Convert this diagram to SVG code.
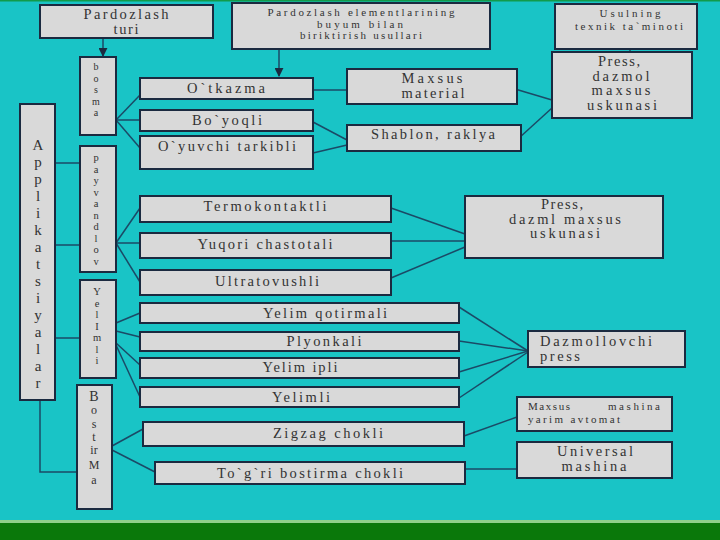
<svg xmlns="http://www.w3.org/2000/svg" width="720" height="540" viewBox="0 0 720 540">
<defs>
<style>
.box{fill:#d9d9d9;stroke:#1b2a40;stroke-width:2}
.t{font-family:"Liberation Serif","Times New Roman",serif;fill:#333;text-anchor:middle}
.s{font-size:11px}
.m{font-size:14.5px}
.v{font-family:"Liberation Serif","Times New Roman",serif;fill:#333;text-anchor:middle}
.c{stroke:#1b4a66;stroke-width:1.5;fill:none}
</style>
<marker id="ar" viewBox="0 0 10 10" refX="9" refY="5" markerWidth="6" markerHeight="6" orient="auto">
<path d="M0,0 L10,5 L0,10 z" fill="#1b2a40"/>
</marker>
</defs>
<rect x="0" y="0" width="720" height="540" fill="#19c4c6"/>
<rect x="0" y="0" width="720" height="1.5" fill="#129a4a"/>
<rect x="0" y="520" width="720" height="3" fill="#8fd08a"/>
<rect x="0" y="523" width="720" height="17" fill="#0a780a"/>

<g id="connectors">
<line class="c" x1="103" y1="38" x2="103" y2="56" marker-end="url(#ar)"/>
<line class="c" x1="279" y1="49" x2="279" y2="76" marker-end="url(#ar)"/>
<line class="c" x1="630" y1="49" x2="630" y2="64" marker-end="url(#ar)"/>
<line class="c" x1="55" y1="163" x2="80" y2="163"/>
<line class="c" x1="55" y1="245" x2="80" y2="245"/>
<line class="c" x1="55" y1="338" x2="80" y2="338"/>
<polyline class="c" points="40,400 40,472 77,472"/>
<line class="c" x1="116" y1="120" x2="140" y2="95"/>
<line class="c" x1="116" y1="120" x2="140" y2="120"/>
<line class="c" x1="116" y1="120" x2="140" y2="148"/>
<line class="c" x1="313" y1="90" x2="347" y2="90"/>
<line class="c" x1="313" y1="122" x2="347" y2="140"/>
<line class="c" x1="313" y1="153" x2="347" y2="145"/>
<line class="c" x1="515" y1="89" x2="552" y2="100"/>
<line class="c" x1="519" y1="138" x2="552" y2="108"/>
<line class="c" x1="116" y1="243" x2="140" y2="208"/>
<line class="c" x1="116" y1="243" x2="140" y2="243"/>
<line class="c" x1="116" y1="243" x2="140" y2="282"/>
<line class="c" x1="391" y1="208" x2="465" y2="234"/>
<line class="c" x1="391" y1="241" x2="465" y2="241"/>
<line class="c" x1="391" y1="278" x2="465" y2="247"/>
<line class="c" x1="116" y1="323" x2="140" y2="313"/>
<line class="c" x1="116" y1="331" x2="140" y2="337"/>
<line class="c" x1="116" y1="343" x2="140" y2="365"/>
<line class="c" x1="116" y1="345" x2="140" y2="397"/>
<line class="c" x1="459" y1="307" x2="528" y2="351"/>
<line class="c" x1="459" y1="341" x2="528" y2="351"/>
<line class="c" x1="459" y1="372" x2="528" y2="351"/>
<line class="c" x1="459" y1="398" x2="528" y2="352"/>
<line class="c" x1="112" y1="446" x2="143" y2="429"/>
<line class="c" x1="112" y1="450" x2="155" y2="472"/>
<line class="c" x1="464" y1="436" x2="517" y2="417"/>
<line class="c" x1="465" y1="469" x2="517" y2="469"/>
</g>

<g id="n-pardozlash-turi">
<rect class="box" x="40" y="5" width="173" height="33"/>
<text class="t m" x="126" y="19" textLength="85" lengthAdjust="spacing">Pardozlash</text>
<text class="t m" x="126" y="34" textLength="25" lengthAdjust="spacing">turi</text>
</g>
<g id="n-biriktirish">
<rect class="box" x="232" y="3" width="258" height="46"/>
<text class="t s" x="361" y="16" textLength="187" lengthAdjust="spacing">Pardozlash elementlarining</text>
<text class="t s" x="360" y="27.5" textLength="86" lengthAdjust="spacing">buyum bilan</text>
<text class="t s" x="361" y="39" textLength="122" lengthAdjust="spacing">biriktirish usullari</text>
</g>
<g id="n-usulning">
<rect class="box" x="555" y="4" width="142" height="45"/>
<text class="t s" x="630" y="17" textLength="61" lengthAdjust="spacing">Usulning</text>
<text class="t s" x="629" y="29.5" textLength="108" lengthAdjust="spacing">texnik ta`minoti</text>
</g>
<g id="n-press1">
<rect class="box" x="552" y="52" width="140" height="66"/>
<text class="t m" x="619" y="66" textLength="42" lengthAdjust="spacing">Press,</text>
<text class="t m" x="621" y="80.5" textLength="57" lengthAdjust="spacing">dazmol</text>
<text class="t m" x="621" y="95" textLength="59" lengthAdjust="spacing">maxsus</text>
<text class="t m" x="622" y="109.5" textLength="70" lengthAdjust="spacing">uskunasi</text>
</g>

<g id="n-applikatsiyalar">
<rect class="box" x="20" y="104" width="35" height="296"/>
<text class="v" style="font-size:15px">
<tspan x="38" y="150">A</tspan><tspan x="38" y="167">p</tspan><tspan x="38" y="184">p</tspan><tspan x="38" y="201">l</tspan><tspan x="38" y="218">i</tspan><tspan x="38" y="235">k</tspan><tspan x="38" y="252">a</tspan><tspan x="38" y="269">t</tspan><tspan x="38" y="286">s</tspan><tspan x="38" y="303">i</tspan><tspan x="38" y="320">y</tspan><tspan x="38" y="337">a</tspan><tspan x="38" y="354">l</tspan><tspan x="38" y="371">a</tspan><tspan x="38" y="388">r</tspan>
</text>
</g>
<g id="n-bosma">
<rect class="box" x="80" y="57" width="36" height="78"/>
<text class="v" style="font-size:10px">
<tspan x="96" y="70">b</tspan><tspan x="96" y="82">o</tspan><tspan x="96" y="93">s</tspan><tspan x="96" y="105">m</tspan><tspan x="96" y="116">a</tspan>
</text>
</g>
<g id="n-payvandlov">
<rect class="box" x="80" y="146" width="36" height="126"/>
<text class="v" style="font-size:10.5px">
<tspan x="96" y="161">p</tspan><tspan x="96" y="172.5">a</tspan><tspan x="96" y="184">y</tspan><tspan x="96" y="195.5">v</tspan><tspan x="96" y="207">a</tspan><tspan x="96" y="218.5">n</tspan><tspan x="96" y="230">d</tspan><tspan x="96" y="241.5">l</tspan><tspan x="96" y="253">o</tspan><tspan x="96" y="264.5">v</tspan>
</text>
</g>
<g id="n-yelimli-v">
<rect class="box" x="80" y="280" width="36" height="98"/>
<text class="v" style="font-size:10.5px">
<tspan x="97" y="295">Y</tspan><tspan x="97" y="306.5">e</tspan><tspan x="97" y="318">l</tspan><tspan x="97" y="329.5">I</tspan><tspan x="97" y="341">m</tspan><tspan x="97" y="352.5">l</tspan><tspan x="97" y="364">i</tspan>
</text>
</g>
<g id="n-bostirma">
<rect class="box" x="77" y="385" width="35" height="124"/>
<text class="v" style="font-size:12px">
<tspan x="94" y="401" style="font-size:14px">B</tspan><tspan x="94" y="414">o</tspan><tspan x="94" y="428">s</tspan><tspan x="94" y="441">t</tspan><tspan x="94" y="454">ir</tspan><tspan x="94" y="469">M</tspan><tspan x="94" y="484">a</tspan>
</text>
</g>

<g id="n-otkazma">
<rect class="box" x="140" y="78" width="173" height="21"/>
<text class="t m" x="226" y="93" textLength="78" lengthAdjust="spacing">O`tkazma</text>
</g>
<g id="n-boyoqli">
<rect class="box" x="140" y="110" width="173" height="21"/>
<text class="t m" x="227" y="125" textLength="70" lengthAdjust="spacing">Bo`yoqli</text>
</g>
<g id="n-oyuvchi">
<rect class="box" x="140" y="136" width="173" height="33"/>
<text class="t m" x="227" y="151" textLength="138" lengthAdjust="spacing">O`yuvchi tarkibli</text>
</g>
<g id="n-maxsus-material">
<rect class="box" x="347" y="69" width="170" height="35"/>
<text class="t m" x="432" y="83" textLength="61" lengthAdjust="spacing">Maxsus</text>
<text class="t m" x="433" y="98" textLength="63" lengthAdjust="spacing">material</text>
</g>
<g id="n-shablon">
<rect class="box" x="347" y="125" width="174" height="26"/>
<text class="t m" x="433" y="139" textLength="124" lengthAdjust="spacing">Shablon, raklya</text>
</g>

<g id="n-termokontaktli">
<rect class="box" x="140" y="196" width="251" height="26"/>
<text class="t m" x="265" y="211" textLength="123" lengthAdjust="spacing">Termokontaktli</text>
</g>
<g id="n-yuqori">
<rect class="box" x="140" y="233" width="251" height="25"/>
<text class="t m" x="265" y="249" textLength="135" lengthAdjust="spacing">Yuqori chastotali</text>
</g>
<g id="n-ultratovushli">
<rect class="box" x="140" y="270" width="251" height="25"/>
<text class="t m" x="267" y="286" textLength="104" lengthAdjust="spacing">Ultratovushli</text>
</g>
<g id="n-press2">
<rect class="box" x="465" y="196" width="198" height="62"/>
<text class="t m" x="562" y="209" textLength="42" lengthAdjust="spacing">Press,</text>
<text class="t m" x="565" y="223.5" textLength="112" lengthAdjust="spacing">dazml maxsus</text>
<text class="t m" x="565" y="238" textLength="70" lengthAdjust="spacing">uskunasi</text>
</g>

<g id="n-yelim-qotirmali">
<rect class="box" x="140" y="303" width="319" height="20"/>
<text class="t m" x="325" y="318" textLength="124" lengthAdjust="spacing">Yelim qotirmali</text>
</g>
<g id="n-plyonkali">
<rect class="box" x="140" y="332" width="319" height="19"/>
<text class="t m" x="324" y="346" textLength="75" lengthAdjust="spacing">Plyonkali</text>
</g>
<g id="n-yelim-ipli">
<rect class="box" x="140" y="358" width="319" height="20"/>
<text class="t m" x="300" y="372" textLength="75" lengthAdjust="spacing">Yelim ipli</text>
</g>
<g id="n-yelimli">
<rect class="box" x="140" y="387" width="319" height="20"/>
<text class="t m" x="301" y="402" textLength="58" lengthAdjust="spacing">Yelimli</text>
</g>
<g id="n-dazmollovchi">
<rect class="box" x="528" y="331" width="157" height="36"/>
<text class="t m" x="540" y="346" style="text-anchor:start" textLength="112" lengthAdjust="spacing">Dazmollovchi</text>
<text class="t m" x="540" y="361" style="text-anchor:start" textLength="40" lengthAdjust="spacing">press</text>
</g>

<g id="n-zigzag">
<rect class="box" x="143" y="422" width="321" height="24"/>
<text class="t m" x="328" y="438" textLength="110" lengthAdjust="spacing">Zigzag chokli</text>
</g>
<g id="n-togri">
<rect class="box" x="155" y="462" width="310" height="22"/>
<text class="t m" x="310" y="478" textLength="186" lengthAdjust="spacing">To`g`ri bostirma chokli</text>
</g>
<g id="n-maxsus-mashina">
<rect class="box" x="517" y="397" width="155" height="34"/>
<text class="t s" x="528" y="410" style="text-anchor:start" textLength="42" lengthAdjust="spacing">Maxsus</text>
<text class="t s" x="660" y="410" style="text-anchor:end" textLength="52" lengthAdjust="spacing">mashina</text>
<text class="t s" x="528" y="423" style="text-anchor:start" textLength="92" lengthAdjust="spacing">yarim avtomat</text>
</g>
<g id="n-universal">
<rect class="box" x="517" y="442" width="155" height="36"/>
<text class="t m" x="595" y="456" textLength="76" lengthAdjust="spacing">Universal</text>
<text class="t m" x="594" y="471" textLength="65" lengthAdjust="spacing">mashina</text>
</g>
</svg>
